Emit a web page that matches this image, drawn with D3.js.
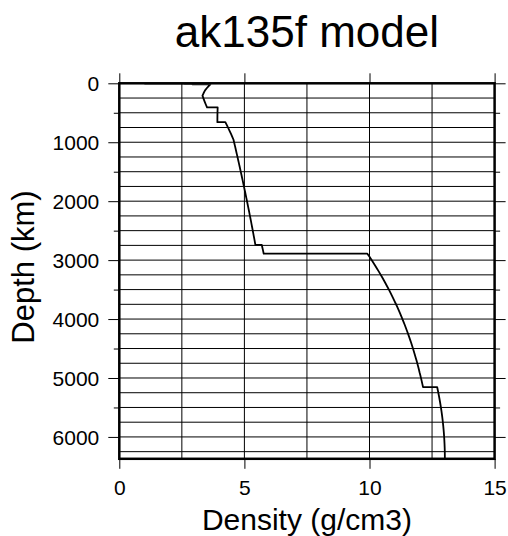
<!DOCTYPE html>
<html>
<head>
<meta charset="utf-8">
<script src="https://cdn.jsdelivr.net/npm/d3@7"></script>
<style>
  html, body { margin: 0; padding: 0; background: #fff; }
  svg { display: block; font-family: "Liberation Sans", Arial, Helvetica, sans-serif; }
</style>
</head>
<body>
<svg id="chart" width="508" height="536"></svg>
<script>
// ---- data (ak135f density profile, depth in km, density in g/cm3) ----
const depthKm = [
  0, 3, 3, 3.3, 3.3, 10, 10, 18, 18, 43, 80, 120, 165, 210, 260, 310, 360, 410,
  410, 460, 510, 560, 610, 660,
  660, 710, 760, 809.5, 859, 908.5, 958, 1007.5, 1057, 1106.5, 1156, 1205.5, 1255,
  1304.5, 1354, 1403.5, 1453, 1502.5, 1552, 1601.5, 1651, 1700.5, 1750, 1799.5,
  1849, 1898.5, 1948, 1997.5, 2047, 2096.5, 2146, 2195.5, 2245, 2294.5, 2344,
  2393.5, 2443, 2492.5, 2542, 2591.5, 2640, 2690, 2740,
  2740, 2789.67, 2839.33, 2891.5,
  2891.5, 2939.33, 2989.66, 3039.99, 3090.32, 3140.66, 3190.99, 3241.32, 3291.65,
  3341.98, 3392.31, 3442.64, 3492.97, 3543.3, 3593.64, 3643.97, 3694.3, 3744.63,
  3794.96, 3845.29, 3895.62, 3945.95, 3996.28, 4046.62, 4096.95, 4147.28, 4197.61,
  4247.94, 4298.27, 4348.6, 4398.93, 4449.26, 4499.6, 4549.93, 4600.26, 4650.59,
  4700.92, 4751.25, 4801.58, 4851.91, 4902.24, 4952.58, 5002.91, 5053.24, 5103.57,
  5153.5,
  5153.5, 5204.61, 5255.32, 5306.04, 5356.75, 5407.46, 5458.17, 5508.89, 5559.6,
  5610.31, 5661.02, 5711.74, 5762.45, 5813.16, 5863.87, 5914.59, 5965.3, 6016.01,
  6066.72, 6117.44, 6168.15, 6218.86, 6269.57, 6320.29, 6371
];
const density = [
  1.02, 1.02, 2.0, 2.0, 2.6, 2.6, 2.92, 2.92, 3.641, 3.5801, 3.502, 3.4268, 3.3711, 3.3243,
  3.3663, 3.411, 3.4577, 3.5068,
  3.9317, 3.9273, 3.9233, 3.9218, 3.9206, 3.9201,
  4.2387, 4.2986, 4.3565, 4.4118, 4.465, 4.5162, 4.5654, 4.5926, 4.6198, 4.6467, 4.6735,
  4.7001, 4.7266, 4.7528, 4.779, 4.805, 4.8307, 4.8562, 4.8817, 4.9069, 4.9321, 4.957,
  4.9817, 5.0062, 5.0306, 5.0548, 5.0789, 5.1027, 5.1264, 5.1499, 5.1732, 5.1963,
  5.2192, 5.242, 5.2646, 5.287, 5.3092, 5.3313, 5.3531, 5.3748, 5.3962, 5.4176, 5.4387,
  5.6934, 5.7196, 5.7458, 5.7721,
  9.9145, 9.9942, 10.0722, 10.1485, 10.2233, 10.2964, 10.3679, 10.4378, 10.5062,
  10.5731, 10.6385, 10.7023, 10.7647, 10.8257, 10.8852, 10.9434, 11.0001, 11.0555,
  11.1095, 11.1623, 11.2137, 11.2639, 11.3127, 11.3604, 11.4069, 11.4521, 11.4962,
  11.5391, 11.5809, 11.6216, 11.6612, 11.6998, 11.7373, 11.7737, 11.8092, 11.8437,
  11.8772, 11.9098, 11.9414, 11.9722, 12.0001, 12.0311, 12.0593, 12.0867, 12.1133,
  12.1391,
  12.7037, 12.7289, 12.753, 12.776, 12.798, 12.8188, 12.8387, 12.8574, 12.8751,
  12.8917, 12.9072, 12.9217, 12.9351, 12.9474, 12.9586, 12.9688, 12.9779, 12.9859,
  12.9929, 12.9988, 13.0036, 13.0074, 13.01, 13.0117, 13.0122
];
const xTicks = [0, 5, 10, 15];
const xGrid = [2.5, 5, 7.5, 10, 12.5];
const yMajorTicks = [0, 1000, 2000, 3000, 4000, 5000, 6000];
const yMinorTicks = [500, 1500, 2500, 3500, 4500, 5500];
const yGrid = d3.range(250, 6371, 250);
const titleText = "ak135f model";
const xLabel = "Density (g/cm3)";
const yLabel = "Depth (km)";

// ---- layout ----
const pLeft = 119.3, pRight = 494.6, pTop = 83.3, pBottom = 458.8;
const x = d3.scaleLinear().domain([0, 15]).range([pLeft, pRight]);
const y = d3.scaleLinear().domain([0, 6371]).range([pTop, pBottom]);

const svg = d3.select("#chart");

svg.append("defs").append("clipPath").attr("id", "plotclip")
  .append("rect")
  .attr("x", pLeft).attr("y", pTop + 1.0)
  .attr("width", pRight - pLeft).attr("height", pBottom - pTop - 1.0);

// grid
const g = svg.append("g");
g.selectAll("line.vg").data(xGrid).join("line").attr("class", "vg")
  .attr("x1", d => x(d)).attr("x2", d => x(d))
  .attr("y1", pTop).attr("y2", pBottom)
  .attr("stroke", "#000").attr("stroke-width", 1);
g.selectAll("line.hg").data(yGrid).join("line").attr("class", "hg")
  .attr("y1", d => y(d)).attr("y2", d => y(d))
  .attr("x1", pLeft).attr("x2", pRight)
  .attr("stroke", "#000").attr("stroke-width", 1);

// curve
const pts = depthKm.map((d, i) => [density[i], d]);
svg.append("path")
  .datum(pts)
  .attr("clip-path", "url(#plotclip)")
  .attr("fill", "none")
  .attr("stroke", "#000")
  .attr("stroke-width", 1.8)
  .attr("stroke-linejoin", "round")
  .attr("d", d3.line().x(d => x(d[0])).y(d => y(d[1])));

function styleAxis(sel) {
  sel.select(".domain").remove();
  sel.selectAll(".tick line").attr("stroke", "#000").attr("stroke-width", 1);
  sel.selectAll(".tick text").attr("fill", "#000");
}
const yAxisL = svg.append("g").attr("transform", `translate(${pLeft},0)`)
  .call(d3.axisLeft(y).tickValues(yMajorTicks).tickSize(11).tickPadding(9).tickFormat(d3.format("d")));
styleAxis(yAxisL);
yAxisL.selectAll(".tick text")
  .attr("font-size", 21).attr("font-family", "Liberation Sans, Arial, sans-serif")
  .attr("dy", "0.36em");
const yAxisLm = svg.append("g").attr("transform", `translate(${pLeft},0)`)
  .call(d3.axisLeft(y).tickValues(yMinorTicks).tickSize(5.5).tickFormat(""));
styleAxis(yAxisLm);
const yAxisR = svg.append("g").attr("transform", `translate(${pRight},0)`)
  .call(d3.axisRight(y).tickValues(yMajorTicks).tickSize(11).tickFormat(""));
styleAxis(yAxisR);
const yAxisRm = svg.append("g").attr("transform", `translate(${pRight},0)`)
  .call(d3.axisRight(y).tickValues(yMinorTicks).tickSize(5.5).tickFormat(""));
styleAxis(yAxisRm);
const xAxisB = svg.append("g").attr("transform", `translate(0,${pBottom})`)
  .call(d3.axisBottom(x).tickValues(xTicks).tickSize(10).tickPadding(11).tickFormat(d3.format("d")));
styleAxis(xAxisB);
xAxisB.selectAll(".tick text")
  .attr("font-size", 21).attr("font-family", "Liberation Sans, Arial, sans-serif");
const xAxisT = svg.append("g").attr("transform", `translate(0,${pTop})`)
  .call(d3.axisTop(x).tickValues(xTicks).tickSize(10).tickFormat(""));
styleAxis(xAxisT);

// frame
svg.append("rect")
  .attr("x", pLeft).attr("y", pTop)
  .attr("width", pRight - pLeft).attr("height", pBottom - pTop)
  .attr("fill", "none").attr("stroke", "#000").attr("stroke-width", 2.5);

// title & labels
svg.append("text")
  .attr("x", (pLeft + pRight) / 2).attr("y", 46.5)
  .attr("text-anchor", "middle")
  .attr("font-size", 44)
  .attr("fill", "#000")
  .text(titleText);
svg.append("text")
  .attr("x", (pLeft + pRight) / 2).attr("y", 530)
  .attr("text-anchor", "middle")
  .attr("font-size", 30)
  .attr("fill", "#000")
  .text(xLabel);
svg.append("text")
  .attr("transform", `translate(34,267) rotate(-90)`)
  .attr("text-anchor", "middle")
  .attr("font-size", 31)
  .attr("fill", "#000")
  .text(yLabel);
</script>
</body>
</html>
